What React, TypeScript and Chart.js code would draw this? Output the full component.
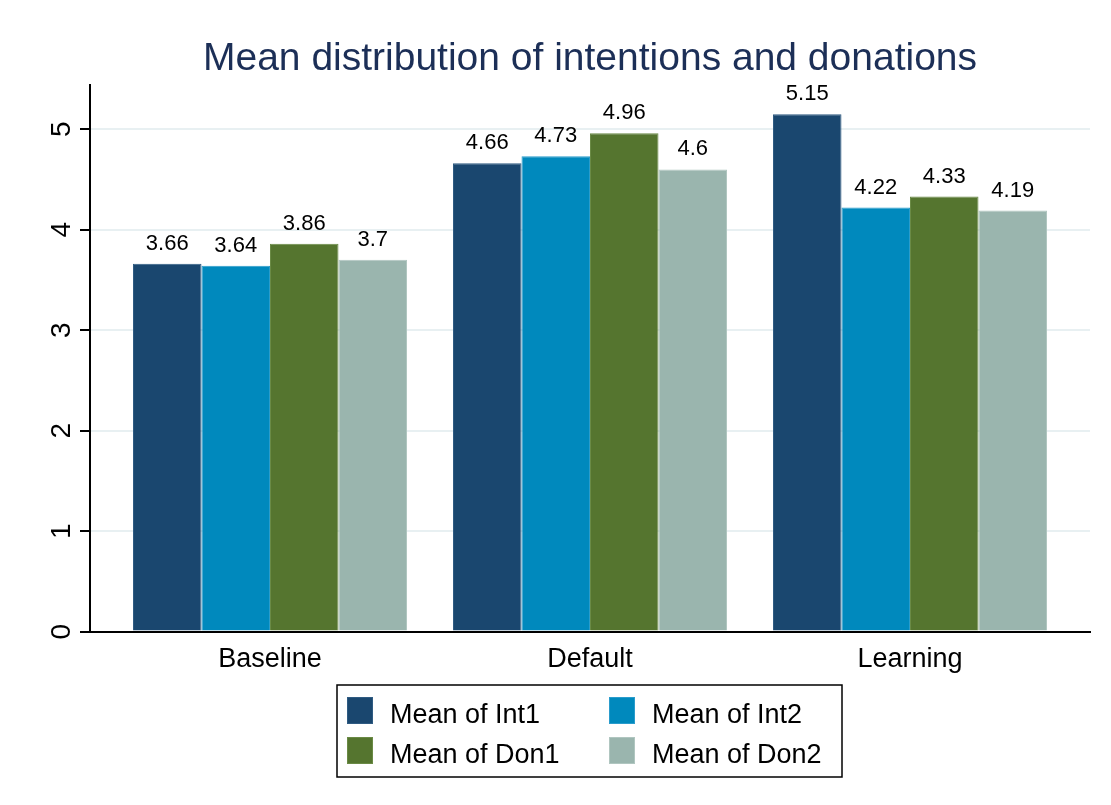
import React, { useEffect, useRef } from "react";
import { Chart, registerables } from "chart.js";

Chart.register(...registerables);

const categories = ["Baseline", "Default", "Learning"];
const seriesNames = ["Mean of Int1", "Mean of Int2", "Mean of Don1", "Mean of Don2"];
const int1 = [3.66, 4.66, 5.15];
const int2 = [3.64, 4.73, 4.22];
const don1 = [3.86, 4.96, 4.33];
const don2 = [3.7, 4.6, 4.19];
const yTicks = [0, 1, 2, 3, 4, 5];
const colors = ["#1a476f", "#0089bd", "#55752f", "#9ab5ae"];
const borders = ["#2f5b82", "#2a9ccc", "#6a8a45", "#b0c6c0"];

const FONT = "'Liberation Sans', Arial, sans-serif";

const labelsPlugin = {
  id: "customDraw",
  afterDatasetsDraw(chart: any) {
    const ctx = chart.ctx;
    ctx.save();
    ctx.fillStyle = "#000";
    ctx.font = `22px ${FONT}`;
    ctx.textAlign = "center";
    ctx.textBaseline = "alphabetic";
    chart.data.datasets.forEach((ds: any, di: number) => {
      const meta = chart.getDatasetMeta(di);
      meta.data.forEach((el: any, i: number) => {
        const v = ds.data[i].y;
        ctx.fillText(String(v), el.x, el.y - 14);
      });
    });
    ctx.restore();
  },
  afterDraw(chart: any) {
    const ctx = chart.ctx;
    const ys = chart.scales.y;
    ctx.save();
    ctx.fillStyle = "#000";
    ctx.font = `28px ${FONT}`;
    ctx.textAlign = "center";
    ctx.textBaseline = "alphabetic";
    yTicks.forEach((t) => {
      const py = ys.getPixelForValue(t);
      ctx.save();
      ctx.translate(69.5, py);
      ctx.rotate(-Math.PI / 2);
      ctx.fillText(String(t), 0, 0);
      ctx.restore();
    });
    const bx = 337, by = 685, bw = 505, bh = 92;
    ctx.strokeStyle = "#000";
    ctx.lineWidth = 1.5;
    ctx.strokeRect(bx, by, bw, bh);
    ctx.font = `27px ${FONT}`;
    ctx.textAlign = "left";
    const cols = [347, 609];
    const rows = [697, 737];
    chart.data.datasets.forEach((ds: any, i: number) => {
      const cx = cols[i % 2];
      const ry = rows[Math.floor(i / 2)];
      ctx.fillStyle = ds.backgroundColor;
      ctx.fillRect(cx, ry, 26, 27);
      ctx.strokeStyle = ds.borderColor;
      ctx.lineWidth = 1;
      ctx.strokeRect(cx + 0.5, ry + 0.5, 25, 26);
      ctx.fillStyle = "#000";
      ctx.fillText(ds.label, cx + 43, ry + 26);
    });
    ctx.restore();
  },
};

export default function App() {
  const ref = useRef<HTMLCanvasElement | null>(null);
  useEffect(() => {
    if (!ref.current) return;
    const series = [int1, int2, don1, don2];
    const chart = new Chart(ref.current, {
      type: "bar",
      data: {
        datasets: series.map((arr, si) => ({
          label: seriesNames[si],
          data: arr.map((v, i) => ({ x: i + 1, y: v })),
          backgroundColor: colors[si],
          borderColor: borders[si],
          borderWidth: 1,
          categoryPercentage: 274 / 320,
          barPercentage: 1,
        })),
      },
      options: {
        responsive: false,
        animation: false,
        layout: { padding: { left: 80, right: 21, top: 0, bottom: 117 } },
        plugins: {
          legend: { display: false },
          tooltip: { enabled: false },
          title: {
            display: true,
            text: "Mean distribution of intentions and donations",
            color: "#1c2f57",
            font: { family: FONT, size: 39, weight: "normal" },
            padding: { top: 36, bottom: 2.2 },
            fullSize: false,
          },
        },
        scales: {
          x: {
            type: "linear",
            offset: false,
            bounds: "ticks",
            min: 0.4375,
            max: 3.5625,
            afterBuildTicks: (scale: any) => {
              scale.ticks = categories.map((_, i) => ({ value: i + 1 }));
            },
            afterDataLimits: (scale: any) => {
              scale.min = 0.4375;
              scale.max = 3.5625;
            },
            ticks: {
              callback: (v: any) => categories[Number(v) - 1] ?? "",
              color: "#000",
              font: { family: FONT, size: 27 },
              padding: 12,
              maxRotation: 0,
              minRotation: 0,
            },
            grid: { display: false, drawTicks: false, offset: false },
            border: { display: true, color: "#000", width: 2 },
          },
          y: {
            min: 0,
            max: 5.44,
            afterBuildTicks: (scale: any) => {
              scale.ticks = yTicks.map((v) => ({ value: v }));
            },
            ticks: { display: false, includeBounds: false },
            grid: {
              color: (c: any) => (c.tick && c.tick.value === 0 ? "rgba(0,0,0,0)" : "#e8f0f2"),
              lineWidth: 2,
              drawTicks: true,
              tickLength: 10,
              tickColor: "#000",
              tickWidth: 2,
            },
            border: { display: true, color: "#000", width: 2 },
          },
        },
      },
      plugins: [labelsPlugin],
    });
    return () => chart.destroy();
  }, []);
  return (
    <canvas
      ref={ref}
      width={1111}
      height={805}
      style={{ position: "absolute", left: 0, top: 0, display: "block", background: "#fff" }}
    />
  );
}
